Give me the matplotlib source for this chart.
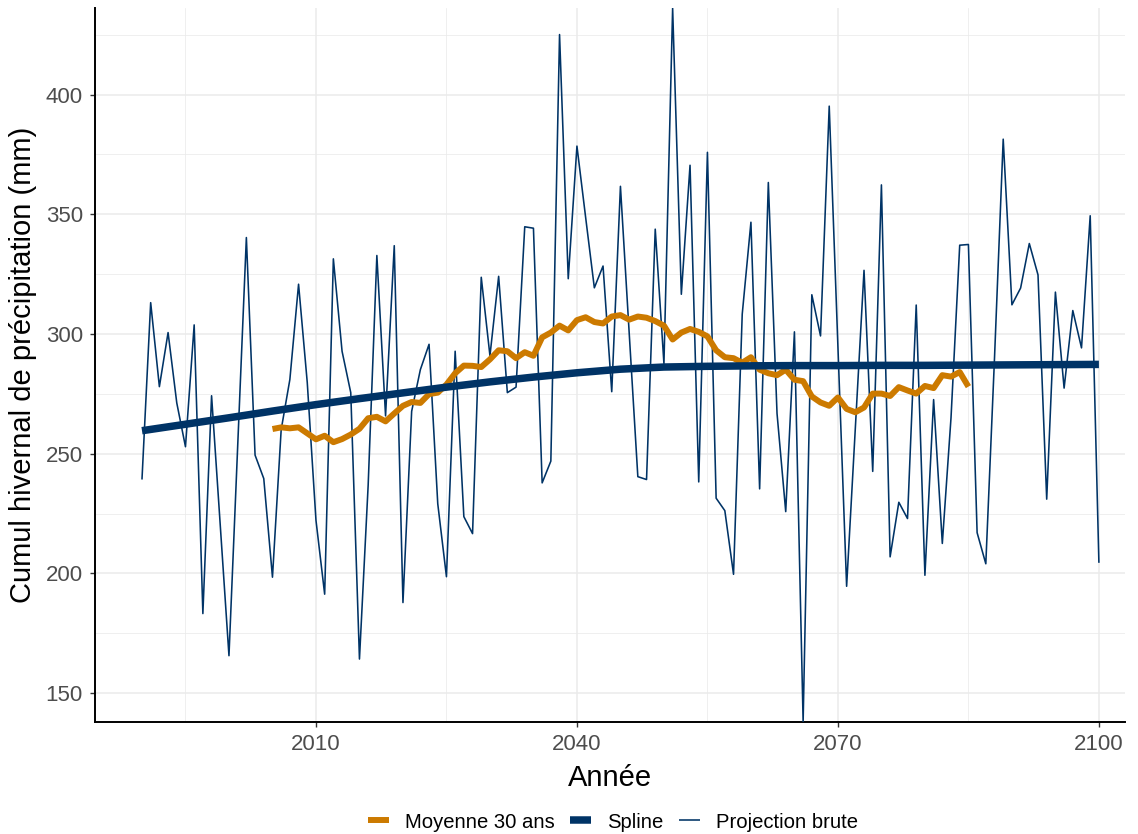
import numpy as np
import matplotlib
matplotlib.use("Agg")
from matplotlib import pyplot as plt
from matplotlib.ticker import MultipleLocator

# raw projection, one value per winter, 1990-2100
years = list(range(1990, 2101))
raw = [239.2, 313.1, 278.0, 300.6, 271.2, 252.9, 303.8, 183.2, 274.2, 220.0,
       165.6, 253.0, 340.3, 249.4, 239.6, 198.4, 260.0, 281.0, 320.8, 279.7,
       222.2, 191.3, 331.4, 292.8, 275.5, 164.2, 236.8, 332.8, 265.8, 336.9,
       187.8, 267.7, 285.1, 295.7, 229.1, 198.6, 292.8, 223.7, 216.6, 323.7,
       290.9, 324.1, 275.5, 277.8, 344.8, 344.2, 237.8, 246.9, 425.1, 323.1,
       378.5, 348.7, 319.3, 328.4, 275.9, 361.7, 300.8, 240.4, 239.2, 343.8,
       287.6, 436.1, 316.6, 370.5, 238.2, 375.9, 231.4, 226.2, 199.6, 308.3,
       346.7, 235.3, 363.3, 266.8, 225.8, 300.9, 138.0, 316.4, 299.2, 395.2,
       294.7, 194.6, 260.6, 326.6, 242.6, 362.3, 206.9, 229.7, 222.9, 312.1,
       199.2, 272.6, 212.5, 265.0, 337.1, 337.4, 217.0, 204.0, 290.0, 381.4,
       312.2, 319.2, 337.8, 324.7, 231.0, 317.5, 277.4, 309.8, 294.2, 349.4,
       204.4]

# 30-year moving average, 2005-2085
ma_years = list(range(2005, 2086))
ma = [260.3, 261.0, 260.6, 261.0, 258.5, 256.0, 257.5, 254.8, 256.1, 258.0,
      260.4, 264.8, 265.4, 263.5, 266.8, 270.0, 271.6, 271.2, 274.9, 275.5,
      278.9, 283.6, 286.8, 286.7, 286.2, 289.4, 293.2, 292.8, 289.9, 292.4,
      290.9, 298.6, 300.6, 303.5, 301.5, 305.8, 307.0, 305.0, 304.4, 307.3,
      307.9, 306.0, 307.3, 306.8, 305.4, 303.5, 297.7, 300.6, 302.1, 300.9,
      299.0, 293.2, 290.3, 289.9, 288.0, 290.3, 285.1, 283.6, 282.8, 285.1,
      280.9, 280.3, 273.9, 271.4, 270.0, 273.5, 268.7, 267.3, 269.3, 275.1,
      275.1, 274.1, 277.8, 276.4, 275.1, 278.3, 277.4, 282.8, 282.2, 284.1,
      278.0]

# smoothing spline, read every 5 years
sp_years = list(range(1990, 2101, 5))
spline = [259.6, 262.3, 265.0, 267.8, 270.5, 273.0, 275.4, 277.8, 280.0, 282.0,
          283.8, 285.3, 286.2, 286.5, 286.7, 286.8, 286.8, 286.9, 286.9, 287.0,
          287.1, 287.2, 287.3]

navy = "#003366"
orange = "#CC7A00"

plt.rcParams["font.family"] = ["Liberation Sans", "DejaVu Sans"]

fig = plt.figure(figsize=(11.38, 8.34), dpi=100)
ax = fig.add_axes([95/1138, 112/834, 1030/1138, 714/834])

ax.plot(years, raw, color=navy, lw=1.15, label="Projection brute", zorder=3,
        solid_capstyle="butt")
ax.plot(ma_years, ma, color=orange, lw=4.3, label="Moyenne 30 ans", zorder=4,
        solid_joinstyle="round", solid_capstyle="butt")
ax.plot(sp_years, spline, color=navy, lw=5.4, label="Spline", zorder=5,
        solid_capstyle="butt")

ax.set_xlim(1984.6, 2103.0)
ax.set_ylim(137.9, 436.2)
ax.xaxis.set_major_locator(MultipleLocator(30, offset=2010))
ax.xaxis.set_minor_locator(MultipleLocator(30, offset=1995))
ax.yaxis.set_major_locator(MultipleLocator(50))
ax.yaxis.set_minor_locator(MultipleLocator(50, offset=25))

ax.grid(which="major", color="#EBEBEB", lw=1.1)
ax.grid(which="minor", color="#EBEBEB", lw=0.55)
ax.set_axisbelow(True)

for s in ["top", "right"]:
    ax.spines[s].set_visible(False)
for s in ["left", "bottom"]:
    ax.spines[s].set_linewidth(1.4)
    ax.spines[s].set_color("black")

ax.tick_params(which="major", length=3.8, width=1.0, color="#333333",
               labelsize=16, labelcolor="#4D4D4D", pad=5)
ax.tick_params(which="minor", length=0)

ax.set_xlabel("Année", fontsize=21, labelpad=6)
ax.set_ylabel("Cumul hivernal de précipitation (mm)", fontsize=21, labelpad=6)

h, l = ax.get_legend_handles_labels()
order = [1, 2, 0]
fig.legend([h[i] for i in order], [l[i] for i in order], loc="center",
           bbox_to_anchor=(613/1138, 12/834), ncol=3, frameon=False,
           fontsize=14.6, handlelength=1.05, handletextpad=0.8,
           columnspacing=0.75)

fig.savefig("out.png", dpi=100)
